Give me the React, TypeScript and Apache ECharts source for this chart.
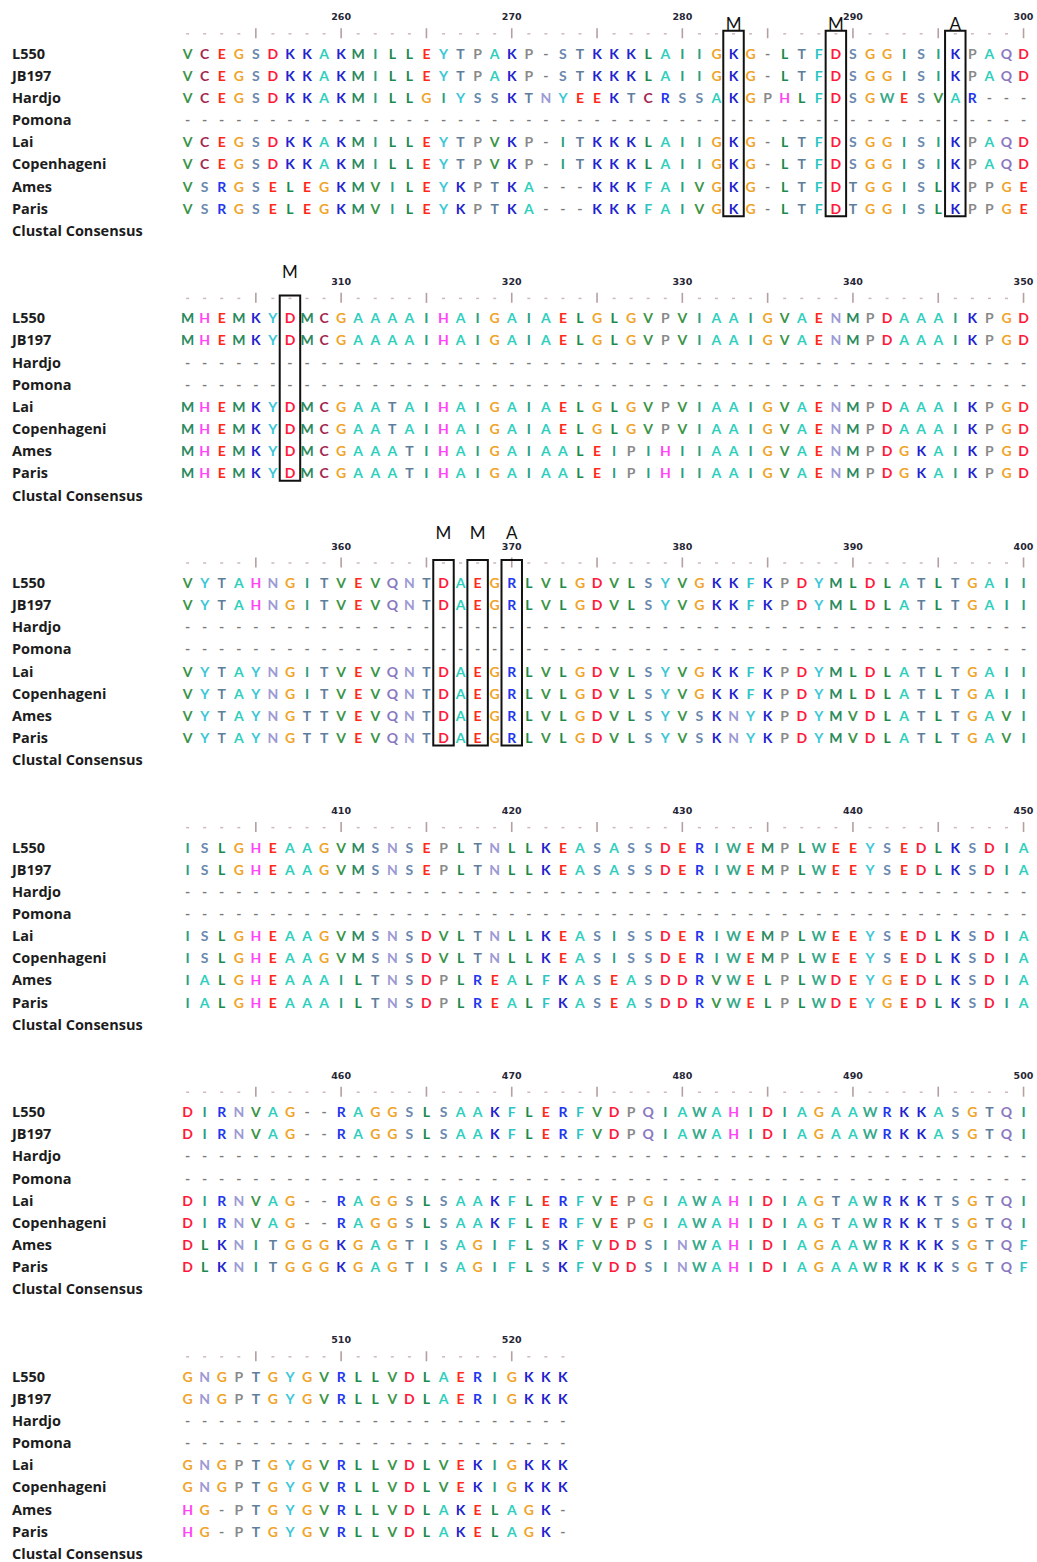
import { useEffect, useRef } from "react";
import * as echarts from "echarts";

// Alignment coordinates: first residue number of every wrapped block
const blockStarts = [251, 301, 351, 401, 451, 501];

const seqNames = ["L550", "JB197", "Hardjo", "Pomona", "Lai", "Copenhageni", "Ames", "Paris"];
const consensusName = "Clustal Consensus";

const L550 = [
  "VCEGSDKKAKMILLEYTPAKP-STKKKLAIIGKG-LTFDSGGISIKPAQD",
  "MHEMKYDMCGAAAAIHAIGAIAELGLGVPVIAAIGVAENMPDAAAIKPGD",
  "VYTAHNGITVEVQNTDAEGRLVLGDVLSYVGKKFKPDYMLDLATLTGAII",
  "ISLGHEAAGVMSNSEPLTNLLKEASASSDERIWEMPLWEEYSEDLKSDIA",
  "DIRNVAG--RAGGSLSAAKFLERFVDPQIAWAHIDIAGAAWRKKASGTQI",
  "GNGPTGYGVRLLVDLAERIGKKK",
];
const JB197 = [
  "VCEGSDKKAKMILLEYTPAKP-STKKKLAIIGKG-LTFDSGGISIKPAQD",
  "MHEMKYDMCGAAAAIHAIGAIAELGLGVPVIAAIGVAENMPDAAAIKPGD",
  "VYTAHNGITVEVQNTDAEGRLVLGDVLSYVGKKFKPDYMLDLATLTGAII",
  "ISLGHEAAGVMSNSEPLTNLLKEASASSDERIWEMPLWEEYSEDLKSDIA",
  "DIRNVAG--RAGGSLSAAKFLERFVDPQIAWAHIDIAGAAWRKKASGTQI",
  "GNGPTGYGVRLLVDLAERIGKKK",
];
const Hardjo = [
  "VCEGSDKKAKMILLGIYSSKTNYEEKTCRSSAKGPHLFDSGWESVAR---",
  "--------------------------------------------------",
  "--------------------------------------------------",
  "--------------------------------------------------",
  "--------------------------------------------------",
  "-----------------------",
];
const Pomona = [
  "--------------------------------------------------",
  "--------------------------------------------------",
  "--------------------------------------------------",
  "--------------------------------------------------",
  "--------------------------------------------------",
  "-----------------------",
];
const Lai = [
  "VCEGSDKKAKMILLEYTPVKP-ITKKKLAIIGKG-LTFDSGGISIKPAQD",
  "MHEMKYDMCGAATAIHAIGAIAELGLGVPVIAAIGVAENMPDAAAIKPGD",
  "VYTAYNGITVEVQNTDAEGRLVLGDVLSYVGKKFKPDYMLDLATLTGAII",
  "ISLGHEAAGVMSNSDVLTNLLKEASISSDERIWEMPLWEEYSEDLKSDIA",
  "DIRNVAG--RAGGSLSAAKFLERFVEPGIAWAHIDIAGTAWRKKTSGTQI",
  "GNGPTGYGVRLLVDLVEKIGKKK",
];
const Copenhageni = [
  "VCEGSDKKAKMILLEYTPVKP-ITKKKLAIIGKG-LTFDSGGISIKPAQD",
  "MHEMKYDMCGAATAIHAIGAIAELGLGVPVIAAIGVAENMPDAAAIKPGD",
  "VYTAYNGITVEVQNTDAEGRLVLGDVLSYVGKKFKPDYMLDLATLTGAII",
  "ISLGHEAAGVMSNSDVLTNLLKEASISSDERIWEMPLWEEYSEDLKSDIA",
  "DIRNVAG--RAGGSLSAAKFLERFVEPGIAWAHIDIAGTAWRKKTSGTQI",
  "GNGPTGYGVRLLVDLVEKIGKKK",
];
const Ames = [
  "VSRGSELEGKMVILEYKPTKA---KKKFAIVGKG-LTFDTGGISLKPPGE",
  "MHEMKYDMCGAAATIHAIGAIAALEIPIHIIAAIGVAENMPDGKAIKPGD",
  "VYTAYNGTTVEVQNTDAEGRLVLGDVLSYVSKNYKPDYMVDLATLTGAVI",
  "IALGHEAAAILTNSDPLREALFKASEASDDRVWELPLWDEYGEDLKSDIA",
  "DLKNITGGGKGAGTISAGIFLSKFVDDSINWAHIDIAGAAWRKKKSGTQF",
  "HG-PTGYGVRLLVDLAKELAGK-",
];
const Paris = [
  "VSRGSELEGKMVILEYKPTKA---KKKFAIVGKG-LTFDTGGISLKPPGE",
  "MHEMKYDMCGAAATIHAIGAIAALEIPIHIIAAIGVAENMPDGKAIKPGD",
  "VYTAYNGTTVEVQNTDAEGRLVLGDVLSYVSKNYKPDYMVDLATLTGAVI",
  "IALGHEAAAILTNSDPLREALFKASEASDDRVWELPLWDEYGEDLKSDIA",
  "DLKNITGGGKGAGTISAGIFLSKFVDDSINWAHIDIAGAAWRKKKSGTQF",
  "HG-PTGYGVRLLVDLAKELAGK-",
];

const sequences = [L550, JB197, Hardjo, Pomona, Lai, Copenhageni, Ames, Paris];

// Boxed columns with their tags
const sitePositions = [283, 289, 296, 307, 366, 368, 370];
const siteTags = ["M", "M", "A", "M", "M", "M", "A"];

const residueColors: Record<string, string> = {
  A: "#2fcfbd",
  V: "#3a9446",
  L: "#1b8a4c",
  I: "#2a9e80",
  M: "#2b8a5e",
  F: "#2ec4c4",
  W: "#35a98a",
  C: "#a3284f",
  G: "#f0a42a",
  P: "#8a8a8a",
  S: "#6a88ad",
  T: "#5f7e9c",
  N: "#9d9ad4",
  Q: "#8a78c0",
  D: "#ff1a3c",
  E: "#ff2a1a",
  K: "#2222d0",
  R: "#2236ee",
  H: "#ff45f5",
  Y: "#3cc7d6",
  "-": "#7a7a7a",
};

// Layout (pixels)
const COL_W = 17.06;
const FIRST_COL_X = 187.6;
const ROW_H = 22.15;
const FIRST_ROW_Y = 53.2;
const BLOCK_STEP = 264.6;
const NAME_X = 12;
const Y_MIN = -2;
const Y_MAX = 8.25;
const RULER_ROW = -0.9;
const RULER_NUM_ROW = -1.64;
const BOX_TOP_ROW = -1.01;
const BOX_BOTTOM_ROW = 7.36;
const TAG_LIFT = [7.5, 23.5, 27.5, 25, 25, 25];

export default function App() {
  const ref = useRef<HTMLDivElement>(null);

  useEffect(() => {
    if (!ref.current) return;
    const chart = echarts.init(ref.current, undefined, { renderer: "svg" });

    const gridLeft = FIRST_COL_X - 0.5 * COL_W;
    const grids: any[] = [];
    const xAxes: any[] = [];
    const yAxes: any[] = [];
    const series: any[] = [];

    blockStarts.forEach((start, b) => {
      const len = L550[b].length;
      grids.push({
        left: gridLeft,
        width: 50 * COL_W,
        top: FIRST_ROW_Y + Y_MIN * ROW_H + b * BLOCK_STEP,
        height: (Y_MAX - Y_MIN) * ROW_H,
        outerBoundsMode: "none",
        containLabel: false,
      });
      xAxes.push({ gridIndex: b, type: "value", min: 0.5, max: 50.5, show: false });
      yAxes.push({
        gridIndex: b,
        type: "value",
        inverse: true,
        min: Y_MIN,
        max: Y_MAX,
        interval: 1,
        axisLine: { show: false },
        axisTick: { show: false },
        splitLine: { show: false },
        axisLabel: {
          align: "left",
          margin: gridLeft - NAME_X,
          fontFamily: "Open Sans",
          fontWeight: "bold",
          fontSize: 14.5,
          lineHeight: 14,
          color: "#1c1c1c",
          showMaxLabel: false,
          formatter: (v: number) =>
            v >= 0 && v < seqNames.length ? seqNames[v] : v === seqNames.length ? consensusName : "",
        },
      });

      // Ruler: dots, ticks every 5, numbers every 10
      const rulerData: number[][] = [];
      for (let c = 1; c <= len; c++) rulerData.push([c, RULER_ROW]);
      series.push({
        type: "custom",
        xAxisIndex: b,
        yAxisIndex: b,
        data: rulerData,
        silent: true,
        renderItem: (params: any, api: any) => {
          const col = api.value(0);
          const pos = start + col - 1;
          const p = api.coord([col, RULER_ROW]);
          const children: any[] = [];
          if (pos % 5 === 0) {
            children.push({
              type: "rect",
              shape: { x: p[0] - 0.8, y: p[1] - 5, width: 1.6, height: 10 },
              style: { fill: "#b59f9f" },
            });
          } else {
            children.push({
              type: "rect",
              shape: { x: p[0] - 1.5, y: p[1] - 0.2, width: 3, height: 1.5 },
              style: { fill: "#cdb9b9" },
            });
          }
          if (pos % 10 === 0) {
            const q = api.coord([col, RULER_NUM_ROW]);
            children.push({
              type: "text",
              x: q[0],
              y: q[1],
              style: {
                text: String(pos),
                fill: "#262636",
                font: "bold 9.5px 'DejaVu Sans'",
                align: "center",
                verticalAlign: "middle",
              },
            });
          }
          return { type: "group", children };
        },
      });

      // Residues
      const cells: number[][] = [];
      const letters: string[] = [];
      sequences.forEach((seq, r) => {
        const line = seq[b];
        for (let c = 0; c < line.length; c++) {
          cells.push([c + 1, r]);
          letters.push(line[c]);
        }
      });
      series.push({
        type: "custom",
        xAxisIndex: b,
        yAxisIndex: b,
        data: cells,
        silent: true,
        renderItem: (params: any, api: any) => {
          const p = api.coord([api.value(0), api.value(1)]);
          const ch = letters[params.dataIndex];
          return {
            type: "text",
            x: p[0],
            y: p[1],
            style: {
              text: ch,
              fill: residueColors[ch] || "#333",
              font: "bold 14px Lato",
              align: "center",
              verticalAlign: "middle",
            },
          };
        },
      });

      // Boxed sites
      const siteCols: number[][] = [];
      const tags: string[] = [];
      sitePositions.forEach((pos, i) => {
        if (pos >= start && pos < start + len) {
          siteCols.push([pos - start + 1, BOX_TOP_ROW]);
          tags.push(siteTags[i]);
        }
      });
      if (siteCols.length) {
        series.push({
          type: "custom",
          xAxisIndex: b,
          yAxisIndex: b,
          data: siteCols,
          silent: true,
          z: 5,
          renderItem: (params: any, api: any) => {
            const col = api.value(0);
            const tl = api.coord([col - 0.6, BOX_TOP_ROW]);
            const br = api.coord([col + 0.6, BOX_BOTTOM_ROW]);
            const c = api.coord([col, BOX_TOP_ROW]);
            return {
              type: "group",
              children: [
                {
                  type: "rect",
                  shape: { x: tl[0], y: tl[1], width: br[0] - tl[0], height: br[1] - tl[1] },
                  style: { fill: "none", stroke: "#111", lineWidth: 2 },
                },
                {
                  type: "text",
                  x: c[0],
                  y: c[1] - TAG_LIFT[b],
                  style: {
                    text: tags[params.dataIndex],
                    fill: "#111",
                    font: "17px Lato",
                    align: "center",
                    verticalAlign: "middle",
                  },
                },
              ],
            };
          },
        });
      }
    });

    chart.setOption({
      animation: false,
      backgroundColor: "#ffffff",
      grid: grids,
      xAxis: xAxes,
      yAxis: yAxes,
      series,
    });

    return () => chart.dispose();
  }, []);

  return (
    <div
      ref={ref}
      style={{ position: "absolute", left: 0, top: 0, width: 1037, height: 1562, background: "#fff" }}
    />
  );
}
